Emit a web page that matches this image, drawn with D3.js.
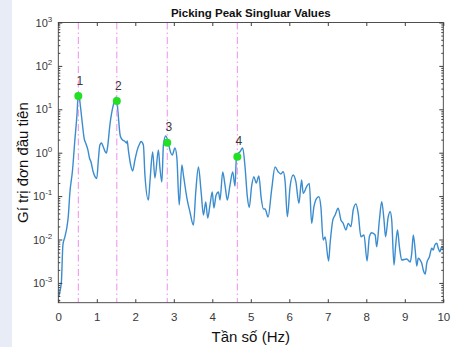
<!DOCTYPE html>
<html>
<head>
<meta charset="utf-8">
<script src="https://cdn.jsdelivr.net/npm/d3@7"></script>
<style>
  html, body { margin: 0; padding: 0; background: #fff; }
  svg { display: block; font-family: "Liberation Sans", Arial, Helvetica, sans-serif; }
</style>
</head>
<body>
<svg id="chart" width="457" height="347"></svg>
<script>
// Frequency axis (Hz) of the first singular value spectrum
const freqHz = [
  0.01, 0.04, 0.08, 0.12, 0.17, 0.22, 0.26, 0.30, 0.37, 0.43, 0.49, 0.52,
  0.58, 0.62, 0.67, 0.72, 0.77, 0.81, 0.85, 0.90, 0.96, 1.00,
  1.04, 1.08, 1.12, 1.16, 1.21, 1.25, 1.28, 1.34, 1.43, 1.51,
  1.55, 1.61, 1.67, 1.72, 1.77, 1.79, 1.82, 1.88, 1.93, 1.99,
  2.05, 2.11, 2.15, 2.21, 2.25, 2.34, 2.38, 2.45, 2.51, 2.60,
  2.64, 2.69, 2.73, 2.79, 2.86, 2.90, 2.96, 3.03, 3.08, 3.14,
  3.21, 3.25, 3.34, 3.42, 3.51, 3.57, 3.64, 3.71, 3.77, 3.83,
  3.88, 3.94, 4.00, 4.04, 4.10, 4.16, 4.20, 4.27, 4.33, 4.39,
  4.46, 4.53, 4.59, 4.63, 4.72, 4.79, 4.85, 4.91, 4.96, 5.02,
  5.08, 5.14, 5.21, 5.27, 5.33, 5.37, 5.45, 5.54, 5.63, 5.71,
  5.78, 5.84, 5.89, 5.95, 6.02, 6.10, 6.17, 6.25, 6.32, 6.36,
  6.45, 6.52, 6.58, 6.64, 6.71, 6.77, 6.82, 6.88, 6.93, 7.02,
  7.06, 7.13, 7.19, 7.27, 7.34, 7.40, 7.47, 7.53, 7.60, 7.66,
  7.73, 7.79, 7.86, 7.94, 8.02, 8.08, 8.14, 8.23, 8.27, 8.34,
  8.40, 8.46, 8.50, 8.57, 8.62, 8.66, 8.72, 8.76, 8.81, 8.86,
  8.92, 9.05, 9.14, 9.18, 9.22, 9.27, 9.31, 9.35, 9.40, 9.44,
  9.48, 9.53, 9.57, 9.64, 9.70, 9.74, 9.78, 9.83, 9.87, 9.91,
  9.96, 10.00
];

// First singular value at each frequency
const singularValue = [
  0.00047, 0.00062, 0.00105, 0.0075, 0.0114, 0.0184, 0.0348, 0.118, 0.40, 1.96, 8.7, 25,
  10.7, 5.1, 2.18, 1.59, 1.15, 0.755, 0.611, 0.379, 0.275, 0.254,
  0.679, 1.50, 1.67, 1.43, 1.09, 0.984, 1.35, 4.35, 12.6, 19.2,
  8.67, 2.43, 1.96, 1.86, 1.67, 1.86, 1.15, 0.521, 0.379, 0.679,
  1.15, 1.59, 1.81, 1.50, 0.306, 0.0813, 0.211, 1.04, 0.261, 1.15,
  0.444, 0.211, 1.50, 2.43, 1.67, 1.15, 0.885, 1.28, 0.755, 0.0624,
  0.521, 0.306, 0.0904, 0.0430, 0.0216, 0.124, 0.469, 0.124, 0.0367, 0.0731,
  0.0313, 0.0624, 0.124, 0.0532, 0.106, 0.124, 0.0813, 0.359, 0.180, 0.0813,
  0.180, 0.359, 0.171, 0.885, 1.05, 1.28, 0.476, 0.0969, 0.0546, 0.165,
  0.280, 0.200, 0.290, 0.0904, 0.0504, 0.0504, 0.0330, 0.138, 0.469, 0.365,
  0.323, 0.365, 0.223, 0.0335, 0.165, 0.306, 0.215, 0.0682, 0.235, 0.116,
  0.165, 0.197, 0.0236, 0.0570, 0.0890, 0.0969, 0.0570, 0.00973, 0.0114, 0.0032,
  0.00817, 0.0281, 0.0367, 0.0524, 0.0281, 0.0236, 0.0166, 0.0236, 0.0197, 0.0478,
  0.0658, 0.0402, 0.0116, 0.0127, 0.0032, 0.0116, 0.0143, 0.0127, 0.00682, 0.0281,
  0.0743, 0.0281, 0.0116, 0.0335, 0.0437, 0.0281, 0.00258, 0.00682, 0.0166, 0.00682,
  0.00337, 0.00355, 0.00303, 0.00481, 0.0127, 0.00573, 0.00245, 0.00369, 0.00337, 0.00283,
  0.00198, 0.00160, 0.00283, 0.00402, 0.00627, 0.00573, 0.00747, 0.00817, 0.00627, 0.00524,
  0.00682, 0.00604
];

// Picked peaks
const peakLabels = ["1", "2", "3", "4"];
const peakFreqHz = [0.52, 1.52, 2.83, 4.65];
const peakValue = [20.2, 15.5, 1.70, 0.81];

// Axis ticks
const xTicks = [0, 1, 2, 3, 4, 5, 6, 7, 8, 9, 10];
const yDecadeExponents = [-3, -2, -1, 0, 1, 2, 3];
const xDomain = [0, 10];
const yDomain = [3.5e-4, 1e3];

const titleText = "Picking Peak Singluar Values";
const xLabelText = "Tần số (Hz)";
const yLabelText = "Gí trị đơn đầu tiên";

// ---------------------------------------------------------------
const W = 457, H = 347;
const plot = { left: 58.3, right: 443.3, top: 22.5, bottom: 302.7 };
const axisColor = "#3c3c3c";
const textColor = "#383838";

const svg = d3.select("#chart");
svg.append("rect").attr("width", W).attr("height", H).attr("fill", "#ffffff");
svg.append("rect").attr("width", 12).attr("height", H).attr("fill", "#e7ecf6");

const x = d3.scaleLinear().domain(xDomain).range([plot.left, plot.right]);
const y = d3.scaleLog().domain(yDomain).range([plot.bottom, plot.top]);

const majorY = yDecadeExponents.map(e => Math.pow(10, e));
const minorY = [];
for (let e = -4; e <= 2; e++) {
  for (let m = 2; m <= 9; m++) {
    const v = m * Math.pow(10, e);
    if (v >= yDomain[0] && v <= yDomain[1]) minorY.push(v);
  }
}

// Spectrum line
const spectrum = d3.zip(freqHz, singularValue);
const line = d3.line()
  .x(d => x(d[0]))
  .y(d => y(d[1]))
  .curve(d3.curveMonotoneX);

svg.append("path")
  .datum(spectrum)
  .attr("d", line)
  .attr("fill", "none")
  .attr("stroke", "#3a8cce")
  .attr("stroke-width", 1.4)
  .attr("stroke-linejoin", "round");

// Dash-dot guides at the picked frequencies
svg.append("g")
  .selectAll("line")
  .data(peakFreqHz)
  .join("line")
  .attr("x1", d => x(d)).attr("x2", d => x(d))
  .attr("y1", plot.top).attr("y2", plot.bottom)
  .attr("stroke", "#ee8fee")
  .attr("stroke-width", 1)
  .attr("stroke-dasharray", "7,3,1.5,3");

// Peak markers and their numbers
const peaks = peakFreqHz.map((f, i) => ({ f, v: peakValue[i], label: peakLabels[i] }));
svg.append("g")
  .selectAll("circle")
  .data(peaks)
  .join("circle")
  .attr("cx", d => x(d.f))
  .attr("cy", d => y(d.v))
  .attr("r", 4)
  .attr("fill", "#22e022");

svg.append("g")
  .selectAll("text")
  .data(peaks)
  .join("text")
  .attr("x", d => x(d.f) + 1.5)
  .attr("y", d => y(d.v) - 11.5)
  .attr("text-anchor", "middle")
  .attr("font-size", 12)
  .attr("fill", textColor)
  .text(d => d.label);

// Axes (ticks point inward, box drawn separately)
const noDomain = g => g.select(".domain").remove();

svg.append("g")
  .attr("transform", `translate(0,${plot.bottom})`)
  .attr("color", axisColor)
  .call(d3.axisBottom(x).tickValues(xTicks).tickSize(-3.5).tickPadding(10).tickFormat(d3.format("d")))
  .call(noDomain)
  .call(g => g.selectAll("text").attr("font-size", 11.5).attr("fill", textColor).attr("font-family", null));

svg.append("g")
  .attr("transform", `translate(0,${plot.top})`)
  .attr("color", axisColor)
  .call(d3.axisTop(x).tickValues(xTicks).tickSize(-3.5).tickFormat(""))
  .call(noDomain);

svg.append("g")
  .attr("transform", `translate(${plot.left},0)`)
  .attr("color", axisColor)
  .call(d3.axisLeft(y).tickValues(majorY).tickSize(-4).tickFormat(""))
  .call(noDomain);
svg.append("g")
  .attr("transform", `translate(${plot.left},0)`)
  .attr("color", axisColor)
  .call(d3.axisLeft(y).tickValues(minorY).tickSize(-2).tickFormat(""))
  .call(noDomain);
svg.append("g")
  .attr("transform", `translate(${plot.right},0)`)
  .attr("color", axisColor)
  .call(d3.axisRight(y).tickValues(majorY).tickSize(-4).tickFormat(""))
  .call(noDomain);
svg.append("g")
  .attr("transform", `translate(${plot.right},0)`)
  .attr("color", axisColor)
  .call(d3.axisRight(y).tickValues(minorY).tickSize(-2).tickFormat(""))
  .call(noDomain);

// Decade labels with superscript exponents
const yLab = svg.append("g")
  .selectAll("text")
  .data(yDecadeExponents)
  .join("text")
  .attr("x", plot.left - 6)
  .attr("y", d => y(Math.pow(10, d)) + 4)
  .attr("text-anchor", "end")
  .attr("font-size", 11)
  .attr("fill", textColor);
yLab.append("tspan").text("10");
yLab.append("tspan").attr("dy", -5).attr("font-size", 8).text(d => d);

// Plot box
svg.append("rect")
  .attr("x", plot.left).attr("y", plot.top)
  .attr("width", plot.right - plot.left)
  .attr("height", plot.bottom - plot.top)
  .attr("fill", "none")
  .attr("stroke", axisColor)
  .attr("stroke-width", 0.9);

// Title and axis labels
svg.append("text")
  .attr("x", (plot.left + plot.right) / 2)
  .attr("y", 16.5)
  .attr("text-anchor", "middle")
  .attr("font-size", 11.5)
  .attr("font-weight", "bold")
  .attr("fill", "#111")
  .text(titleText);

svg.append("text")
  .attr("x", (plot.left + plot.right) / 2)
  .attr("y", 342)
  .attr("text-anchor", "middle")
  .attr("font-size", 15)
  .attr("fill", "#111")
  .text(xLabelText);

svg.append("text")
  .attr("transform", `translate(27.5,${(plot.top + plot.bottom) / 2}) rotate(-90)`)
  .attr("text-anchor", "middle")
  .attr("font-size", 15)
  .attr("fill", "#111")
  .text(yLabelText);
</script>
</body>
</html>
